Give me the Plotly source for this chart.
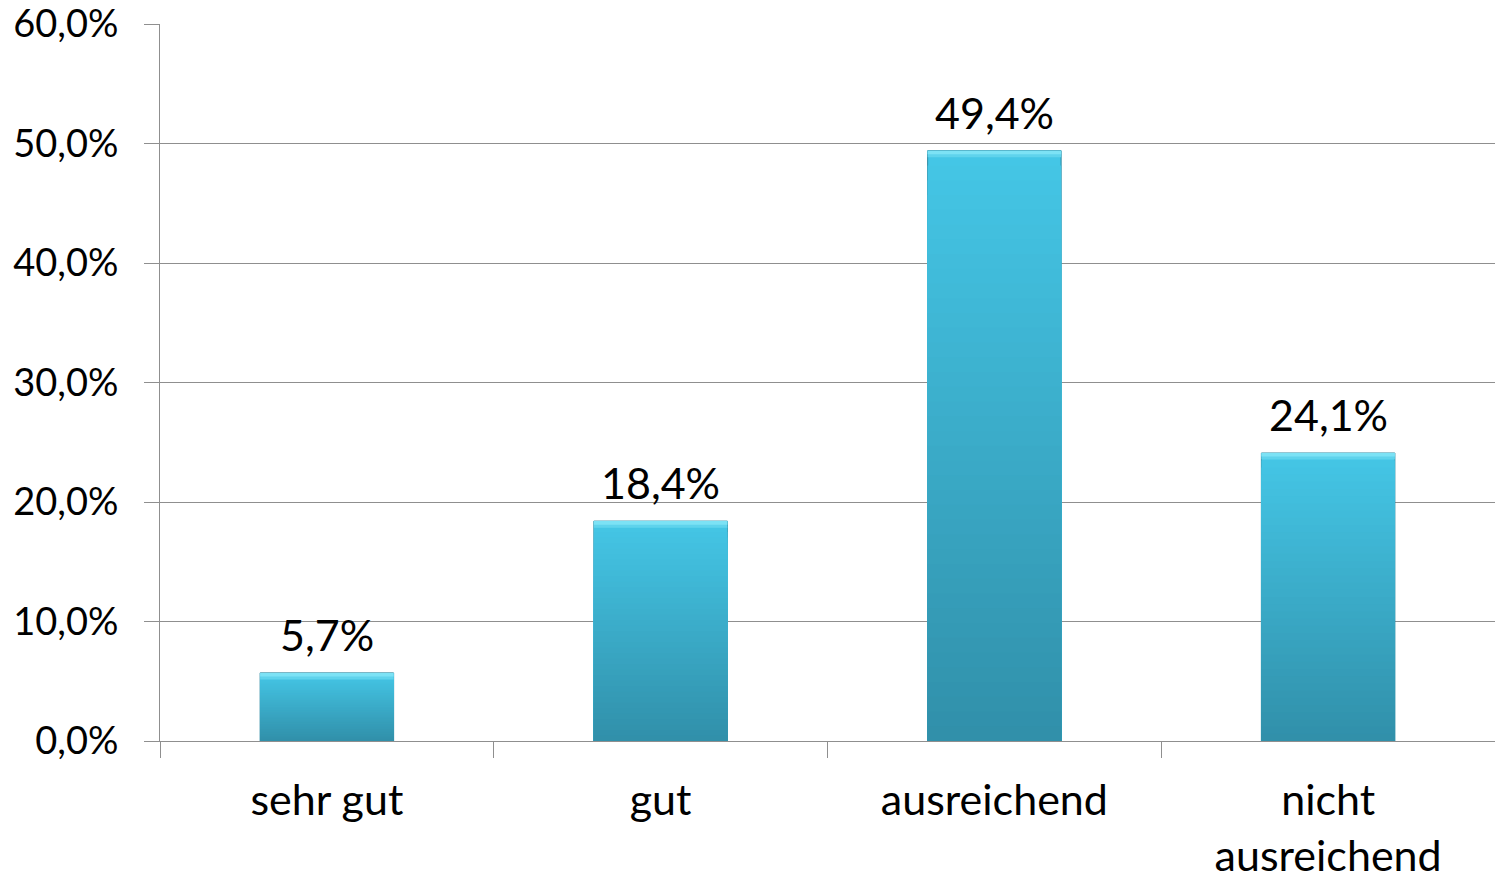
import plotly.graph_objects as go

categories = ["sehr gut", "gut", "ausreichend", "nicht<br>ausreichend"]
values = [5.7, 18.4, 49.4, 24.1]
y_ticks = [0, 10, 20, 30, 40, 50, 60]
y_ticktext = [("%.1f" % t).replace(".", ",") + "%" for t in y_ticks]

FONT = "Lato"
top_rgb = (0x44, 0xC6, 0xE6)
bot_rgb = (0x31, 0x90, 0xAA)
N = 40

fig = go.Figure()

# gradient: stacked overlay bars from full height down to the bottom slice
for k in range(N):
    t = k / (N - 1)
    c = tuple(int(round(top_rgb[i] + (bot_rgb[i] - top_rgb[i]) * t)) for i in range(3))
    frac = (N - k) / N
    fig.add_trace(go.Bar(
        x=categories, y=[v * frac for v in values],
        marker=dict(color="rgb(%d,%d,%d)" % c,
                    line=dict(width=1 if k == 0 else 0, color="#2c8aa3")),
        width=0.4, hoverinfo="skip", showlegend=False,
    ))

# light bevel at the top edge
for d, col in [(0.55, "#5fd3ec"), (0.3, "#7ce2f5")]:
    fig.add_trace(go.Bar(
        x=categories, y=[d] * len(values), base=[v - d for v in values],
        marker=dict(color=col, line=dict(width=0)),
        width=0.4, hoverinfo="skip", showlegend=False,
    ))

labels = [("%.1f" % v).replace(".", ",") + "%" for v in values]
for c, v, lab in zip(categories, values, labels):
    fig.add_annotation(x=c, y=v, text=lab, showarrow=False, yanchor="bottom",
                       yshift=11, font=dict(family=FONT, size=43, color="#000000"))

fig.update_layout(
    width=1495, height=881,
    margin=dict(l=160, r=0, t=24, b=140, autoexpand=False),
    paper_bgcolor="white", plot_bgcolor="white",
    barmode="overlay",
    font=dict(family=FONT, size=38, color="#000000"),
)
fig.update_yaxes(
    range=[0, 60], tickmode="array", tickvals=y_ticks, ticktext=y_ticktext,
    showgrid=True, gridcolor="#8f8f8f", gridwidth=1,
    showline=True, linecolor="#8f8f8f", linewidth=1,
    ticks="outside", ticklen=15, tickcolor="#8f8f8f",
    zeroline=False, ticklabelstandoff=18, automargin=False,
    ticklabeloverflow="allow",
    tickfont=dict(family=FONT, size=38),
)
fig.update_xaxes(
    type="category", tickson="boundaries",
    showline=True, linecolor="#8f8f8f", linewidth=1,
    ticks="outside", ticklen=16, tickcolor="#8f8f8f",
    showgrid=False, ticklabelstandoff=21, automargin=False,
    ticklabeloverflow="allow",
    tickfont=dict(family=FONT, size=43),
)

fig.write_html(
    "out.html",
    config={"displayModeBar": False},
    post_script="document.body.style.margin='0';document.body.style.overflow='hidden';",
)
